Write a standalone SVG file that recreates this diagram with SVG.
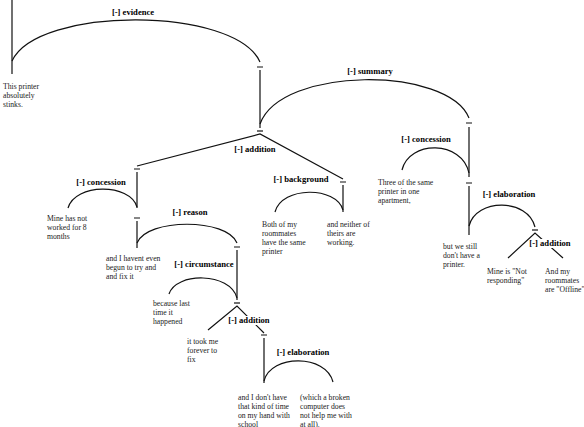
<svg xmlns="http://www.w3.org/2000/svg" width="584" height="427" viewBox="0 0 584 427">
<style>
.ln{stroke:#111;stroke-width:1.2;fill:none}
.t{font-family:"Liberation Serif","Times New Roman",serif;font-size:7.7px;fill:#222}
.lb{font-family:"Liberation Serif","Times New Roman",serif;font-size:8.6px;font-weight:bold;fill:#000;text-anchor:middle}
.bg{fill:#fff}
</style>
<rect width="584" height="427" fill="#fff"/>
<g id="connectors" class="ln">
<path d="M12,0 V74"/>
<path d="M257,67 H263 M260,70 V128"/>
<path d="M257,131 H263"/>
<path d="M466,123 H472 M469,127 V177"/>
<path d="M134,169 H140 M137,172 V208"/>
<path d="M340,182 H346 M343,185 V212"/>
<path d="M134,218 H140 M137,221 V248"/>
<path d="M234,247 H240 M237,250 V300"/>
<path d="M466,183 H472 M469,186 V235"/>
<path d="M234,303 H240"/>
<path d="M261,335 H267 M264,338 V383"/>
<path d="M532,230 H538"/>
<path d="M137,166 L260,134 L343,179"/>
<path d="M208,330 L237,306 L264,333"/>
<path d="M508,258 L535,233 L563,258"/>
<path d="M12,61 C37,6 235,6 260,62"/>
<path d="M260,124 C281,66 448,66 469,118"/>
<path d="M68,208 C75,183 130,183 137,207"/>
<path d="M275,212 C282,186 336,186 343,210"/>
<path d="M137,243 C147,218 227,218 237,243"/>
<path d="M402,170 C409,140 462,140 469,173"/>
<path d="M469,226 C476,198 528,198 535,227"/>
<path d="M169,294 C176,272 230,272 237,298"/>
<path d="M264,381 C271,354 326,354 333,382"/>
</g>
<g id="rel-evidence"><text class="lb" x="133" y="15">[-] evidence</text></g>
<g id="rel-summary"><text class="lb" x="370" y="74">[-] summary</text></g>
<g id="rel-addition1"><text class="lb" x="255" y="152">[-] addition</text></g>
<g id="rel-concession1"><text class="lb" x="101" y="185">[-] concession</text></g>
<g id="rel-background"><text class="lb" x="301" y="182">[-] background</text></g>
<g id="rel-reason"><text class="lb" x="190" y="215">[-] reason</text></g>
<g id="rel-concession2"><text class="lb" x="426" y="142">[-] concession</text></g>
<g id="rel-elaboration1"><text class="lb" x="509" y="197">[-] elaboration</text></g>
<g id="rel-circumstance"><text class="lb" x="204" y="267">[-] circumstance</text></g>
<g id="rel-addition2"><rect class="bg" x="229" y="316" width="41" height="9"/><text class="lb" x="249" y="323">[-] addition</text></g>
<g id="rel-elaboration2"><text class="lb" x="303" y="355">[-] elaboration</text></g>
<g id="rel-addition3"><rect class="bg" x="531" y="239" width="38" height="9"/><text class="lb" x="550" y="246">[-] addition</text></g>
<g id="n1"><text class="t" x="3" y="88.5"><tspan x="3">This printer</tspan><tspan x="3" dy="9">absolutely</tspan><tspan x="3" dy="9">stinks.</tspan></text></g>
<g id="n2"><text class="t" x="47" y="220.5"><tspan x="47">Mine has not</tspan><tspan x="47" dy="9">worked for 8</tspan><tspan x="47" dy="9">months</tspan></text></g>
<g id="n3"><text class="t" x="106" y="260.5"><tspan x="106">and I havent even</tspan><tspan x="106" dy="9">begun to try and</tspan><tspan x="106" dy="9">and fix it</tspan></text></g>
<g id="n4"><text class="t" x="153" y="305.5"><tspan x="153">because last</tspan><tspan x="153" dy="9">time it</tspan><tspan x="153" dy="9">happened</tspan></text></g>
<g id="n5"><text class="t" x="187" y="343.5"><tspan x="187">it took me</tspan><tspan x="187" dy="9">forever to</tspan><tspan x="187" dy="9">fix</tspan></text></g>
<g id="n6"><text class="t" x="238" y="399.5"><tspan x="238">and I don't have</tspan><tspan x="238" dy="9">that kind of time</tspan><tspan x="238" dy="9">on my hand with</tspan><tspan x="238" dy="9">school</tspan></text></g>
<g id="n7"><text class="t" x="300" y="399.5"><tspan x="300">(which a broken</tspan><tspan x="300" dy="9">computer does</tspan><tspan x="300" dy="9">not help me with</tspan><tspan x="300" dy="9">at all).</tspan></text></g>
<g id="n8"><text class="t" x="262" y="226.5"><tspan x="262">Both of my</tspan><tspan x="262" dy="9">roommates</tspan><tspan x="262" dy="9">have the same</tspan><tspan x="262" dy="9">printer</tspan></text></g>
<g id="n9"><text class="t" x="327" y="226.5"><tspan x="327">and neither of</tspan><tspan x="327" dy="9">theirs are</tspan><tspan x="327" dy="9">working.</tspan></text></g>
<g id="n10"><text class="t" x="378" y="184.5"><tspan x="378">Three of the same</tspan><tspan x="378" dy="9">printer in one</tspan><tspan x="378" dy="9">apartment,</tspan></text></g>
<g id="n11"><text class="t" x="443" y="248.5"><tspan x="443">but we still</tspan><tspan x="443" dy="9">don't have a</tspan><tspan x="443" dy="9">printer.</tspan></text></g>
<g id="n12"><text class="t" x="487" y="273.5"><tspan x="487">Mine is "Not</tspan><tspan x="487" dy="9">responding"</tspan></text></g>
<g id="n13"><text class="t" x="545" y="273.5"><tspan x="545">And my</tspan><tspan x="545" dy="9">roommates</tspan><tspan x="545" dy="9">are "Offline"</tspan></text></g>
</svg>
